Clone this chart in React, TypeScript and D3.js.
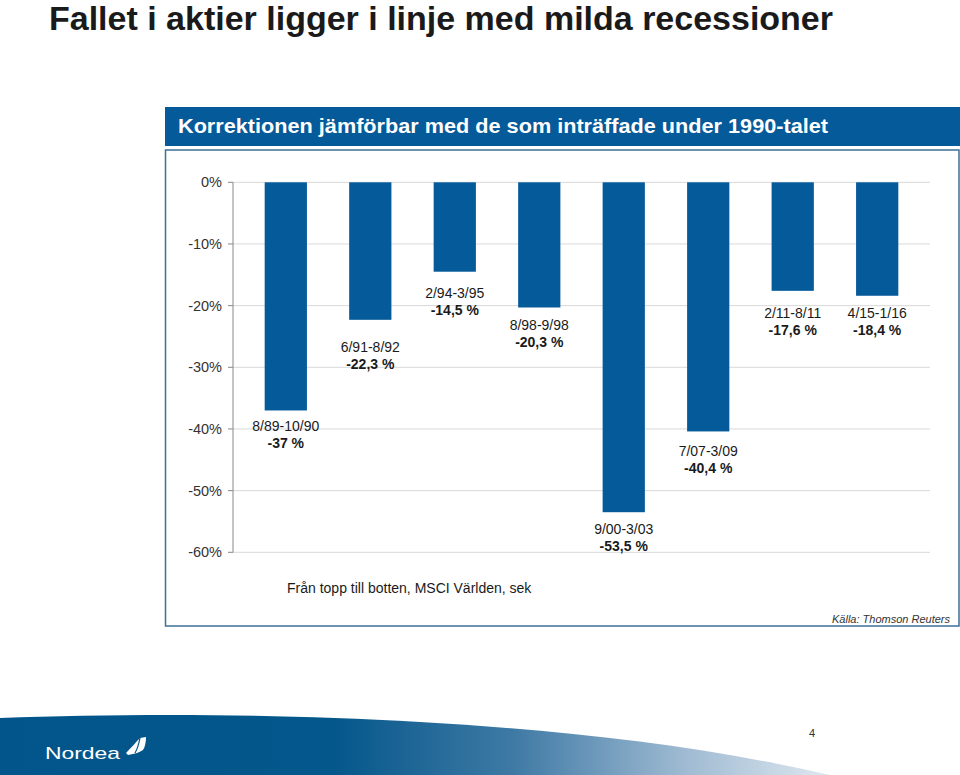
import React from "react";
import * as d3 from "d3";

const periods = ["8/89-10/90", "6/91-8/92", "2/94-3/95", "8/98-9/98", "9/00-3/03", "7/07-3/09", "2/11-8/11", "4/15-1/16"];
const declines = [-37, -22.3, -14.5, -20.3, -53.5, -40.4, -17.6, -18.4];
const valueLabels = ["-37 %", "-22,3 %", "-14,5 %", "-20,3 %", "-53,5 %", "-40,4 %", "-17,6 %", "-18,4 %"];
const yTicks = [0, -10, -20, -30, -40, -50, -60];

// label vertical offset below bar end (px), placement only
const labelGap = [21, 32, 26, 23, 22, 25, 27, 22];

const W = 960;
const H = 775;
const FONT = "'Liberation Sans', Arial, Helvetica, sans-serif";
const BLUE = "#055a9a";

export default function App() {
  const x = d3.scaleBand<string>().domain(periods).range([233, 930]).paddingInner(0.5).paddingOuter(0.375);
  const y = d3.scaleLinear().domain([0, -60]).range([182.3, 552.3]);
  const bw = x.bandwidth();

  const swoosh = "M0,718 C120,714 260,713 420,722 C560,730 700,745 830,775 L0,775 Z";

  return (
    <svg width={W} height={H} style={{ position: "absolute", left: 0, top: 0, background: "#fff" }} fontFamily={FONT}>
      <defs>
        <linearGradient id="sw" x1="0" x2="830" y1="0" y2="0" gradientUnits="userSpaceOnUse">
          <stop offset="0" stopColor="#02558a" />
          <stop offset="0.4" stopColor="#04578b" />
          <stop offset="0.62" stopColor="#3f7aa5" />
          <stop offset="0.82" stopColor="#9db9d1" />
          <stop offset="1" stopColor="#dfe8f0" />
        </linearGradient>
      </defs>
      <rect x={0} y={0} width={W} height={H} fill="#fff" />
      <text x={49} y={30} fontSize={33} fontWeight="bold" fill="#1a1a1a" textLength={784} lengthAdjust="spacingAndGlyphs">
        Fallet i aktier ligger i linje med milda recessioner
      </text>

      <rect x={165} y={107} width={795} height={39} fill={BLUE} />
      <text x={178} y={133} fontSize={21} fontWeight="bold" fill="#fff" textLength={650} lengthAdjust="spacingAndGlyphs">
        Korrektionen jämförbar med de som inträffade under 1990-talet
      </text>
      <rect x={165.5} y={150} width={793.5} height={476} fill="#fff" stroke="#3b6f94" strokeWidth={1.5} />

      {yTicks.map((t) => (
        <g key={t}>
          <line x1={233} x2={930} y1={y(t)} y2={y(t)} stroke="#d9d9d9" strokeWidth={1} />
          <line x1={228} x2={233} y1={y(t)} y2={y(t)} stroke="#888" strokeWidth={1} />
          <text x={222} y={y(t) + 5} fontSize={14.5} textAnchor="end" fill="#333">
            {`${t}%`}
          </text>
        </g>
      ))}
      <line x1={233} x2={233} y1={y(0)} y2={y(-60)} stroke="#888" strokeWidth={1} />

      {periods.map((p, i) => {
        const x0 = x(p) as number;
        const yEnd = y(declines[i]);
        const cx = x0 + bw / 2;
        const ly = yEnd + labelGap[i];
        return (
          <g key={p}>
            <rect x={x0} y={y(0)} width={bw} height={yEnd - y(0)} fill={BLUE} />
            <text x={cx} y={ly} fontSize={14} textAnchor="middle" fill="#1a1a1a">
              {p}
            </text>
            <text x={cx} y={ly + 17} fontSize={14} fontWeight="bold" textAnchor="middle" fill="#1a1a1a">
              {valueLabels[i]}
            </text>
          </g>
        );
      })}

      <text x={287} y={593} fontSize={14} fill="#1a1a1a">
        Från topp till botten, MSCI Världen, sek
      </text>
      <text x={950} y={623} fontSize={11} fontStyle="italic" textAnchor="end" fill="#333">
        Källa: Thomson Reuters
      </text>

      <path d={swoosh} fill="url(#sw)" />
      <text x={45} y={759} fontSize={17} fill="#fff" textLength={75} lengthAdjust="spacingAndGlyphs">
        Nordea
      </text>
      <path d="M126,753 C131,748 136,742 140,738 L146,737 C146,742 145,747 143,750 C140,752 135,754 128,755 Z" fill="#fff" />
      <path d="M140,738 C139,743 138,748 135,753" stroke="#02558a" strokeWidth={1.2} fill="none" />
      <text x={812} y={737} fontSize={11} fill="#333" textAnchor="middle">
        4
      </text>
    </svg>
  );
}
